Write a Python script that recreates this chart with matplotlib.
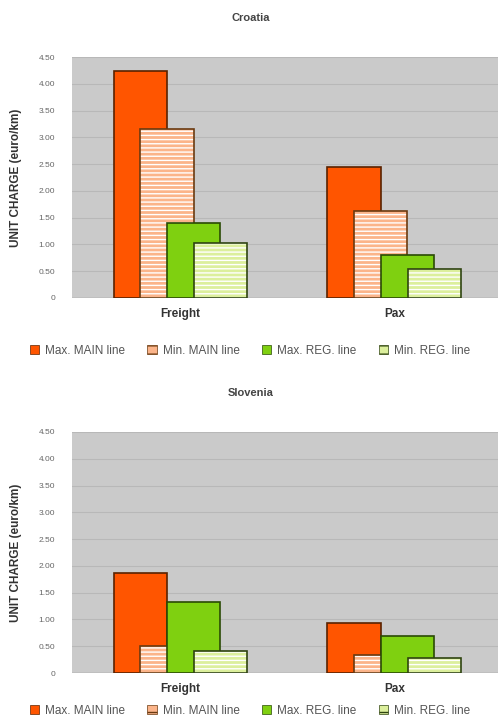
"""
unit charges for Croatia and Slovenia, grouped overlapping bars
"""

import matplotlib.pyplot as plt

plt.rcParams['font.family'] = ['Liberation Sans', 'DejaVu Sans']
plt.rcParams['hatch.linewidth'] = 1.0

categories = ['Freight', 'Pax']
series_names = ['Max. MAIN line', 'Min. MAIN line', 'Max. REG. line', 'Min. REG. line']

croatia_max_main = [4.23, 2.45]
croatia_min_main = [3.16, 1.63]
croatia_max_reg = [1.40, 0.80]
croatia_min_reg = [1.03, 0.54]

slovenia_max_main = [1.86, 0.94]
slovenia_min_main = [0.50, 0.34]
slovenia_max_reg = [1.33, 0.69]
slovenia_min_reg = [0.42, 0.28]

y_ticks = [0, 0.5, 1.0, 1.5, 2.0, 2.5, 3.0, 3.5, 4.0, 4.5]
y_tick_labels = ['0', '0.50', '1.00', '1.50', '2.00', '2.50', '3.00', '3.50', '4.00', '4.50']

# fill, edge, striped?
STYLES = [
    ('#ff5500', '#5a2200', False),
    ('#fbb48a', '#6a3a10', True),
    ('#7fd010', '#2a4a05', False),
    ('#dcef9c', '#2f4410', True),
]

W = 0.248
STEP = 0.126
W_PX, H_PX = 498, 727


def draw_panel(fig, top_px, title, title_y, values, legend_y):
    """
        draws one country panel with the plot area starting at top_px
    """
    ax = fig.add_axes([72 / W_PX, 1 - (top_px + 241) / H_PX, 426 / W_PX, 241 / H_PX])
    ax.set_facecolor('#cacaca')
    ax.set_xlim(-0.507, 1.484)
    ax.set_ylim(0, 4.5)
    ax.set_yticks(y_ticks)
    ax.set_yticklabels(y_tick_labels, fontsize=6, color='#666666')
    ax.yaxis.grid(True, color='#b8b8b8', linewidth=0.8)
    ax.set_axisbelow(True)
    ax.tick_params(axis='y', length=0, pad=12)
    ax.tick_params(axis='x', length=0, pad=7)
    ax.set_xticks(range(len(categories)))
    ax.set_xticklabels(categories, fontsize=8.5, fontweight='bold', color='#333333')
    for spine in ax.spines.values():
        spine.set_visible(False)
    ax.axhline(0, color='#999999', linewidth=1.0, zorder=1)

    xs = range(len(categories))
    handles = []
    for i, (vals, (fill, edge, striped)) in enumerate(zip(values, STYLES)):
        pos = [x + (i - 1.5) * STEP for x in xs]
        if striped:
            ax.bar(pos, vals, W, color=fill, edgecolor='white', hatch='----',
                   linewidth=0, zorder=2 + i)
            ax.bar(pos, vals, W, facecolor='none', edgecolor=edge,
                   linewidth=1.2, zorder=2 + i)
            handles.append(plt.Rectangle((0, 0), 1, 1, facecolor=fill,
                                         edgecolor=edge, hatch='--', linewidth=0.5))
        else:
            ax.bar(pos, vals, W, color=fill, edgecolor=edge,
                   linewidth=1.2, zorder=2 + i)
            handles.append(plt.Rectangle((0, 0), 1, 1, facecolor=fill,
                                         edgecolor=edge, linewidth=0.5))

    ax.set_ylabel('UNIT CHARGE (euro/km)', fontsize=8.5, fontweight='bold',
                  color='#333333')
    ax.yaxis.set_label_coords(-50 / 426, 0.5)

    fig.text(251 / W_PX, 1 - title_y / H_PX, title, fontsize=8, fontweight='bold',
             color='#444444', ha='center', va='center')
    fig.legend(handles, series_names, loc='center', ncol=4,
               bbox_to_anchor=(250 / W_PX, 1 - legend_y / H_PX), frameon=False,
               fontsize=8.5, handlelength=0.8, handleheight=0.8, handletextpad=0.5,
               columnspacing=1.9, labelcolor='#555555')
    return ax


if __name__ == '__main__':
    fig = plt.figure(figsize=(W_PX / 100, H_PX / 100), dpi=100)
    fig.patch.set_facecolor('white')
    draw_panel(fig, 57, 'Croatia', 18,
               [croatia_max_main, croatia_min_main, croatia_max_reg, croatia_min_reg], 351)
    draw_panel(fig, 432, 'Slovenia', 393,
               [slovenia_max_main, slovenia_min_main, slovenia_max_reg, slovenia_min_reg], 711)
    plt.savefig('out.png', dpi=100)
